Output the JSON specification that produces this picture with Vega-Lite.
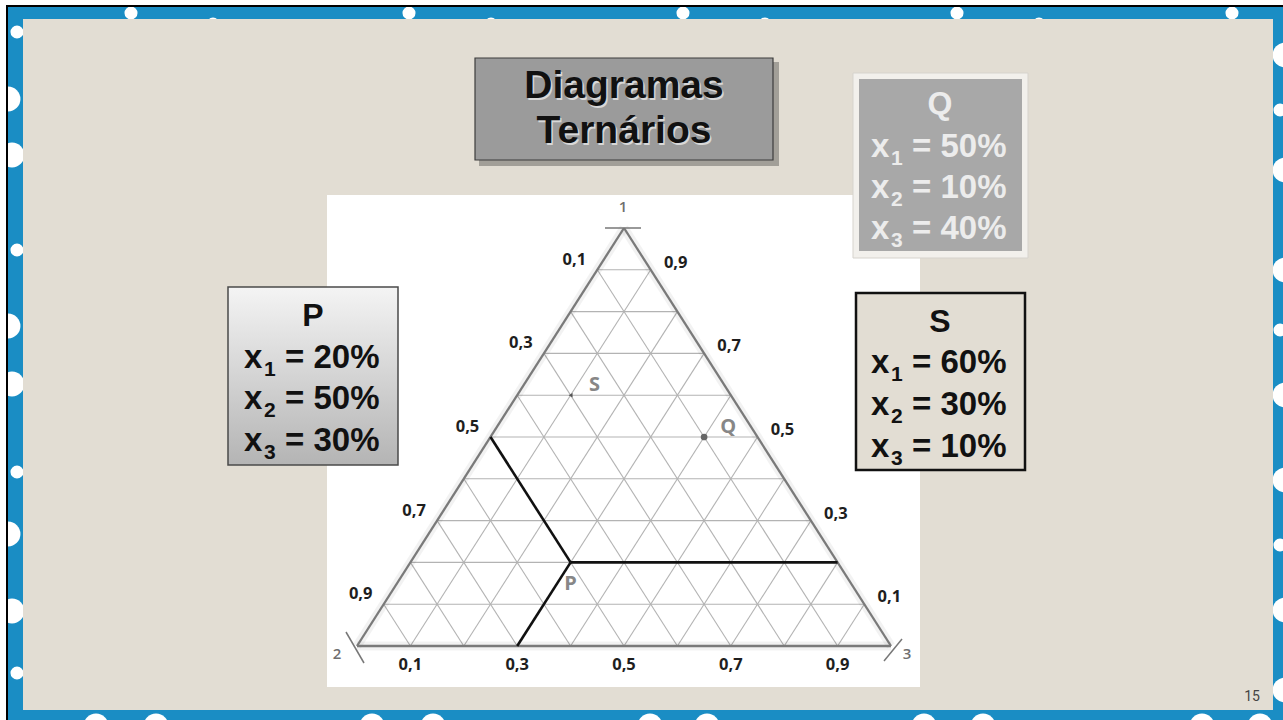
{
  "$schema": "https://vega.github.io/schema/vega-lite/v6.json",
  "width": 1283,
  "height": 720,
  "padding": 0,
  "autosize": {"type": "none"},
  "background": "white",
  "config": {"view": {"stroke": null}},
  "datasets": {
    "sheets": [
      {"part": "border", "x": 8, "y": 7, "x2": 1283, "y2": 720}
    ],
    "frame": [
      {"part": "outside", "x": 0, "y": 0, "x2": 1283, "y2": 5},
      {"part": "outside", "x": 0, "y": 0, "x2": 6, "y2": 720},
      {"part": "frame", "x": 6, "y": 5, "x2": 1283, "y2": 7},
      {"part": "frame", "x": 6, "y": 5, "x2": 8, "y2": 720}
    ],
    "panels": [
      {"part": "slide", "x": 23, "y": 19, "x2": 1273, "y2": 710},
      {"part": "panel", "x": 327, "y": 195, "x2": 920, "y2": 687}
    ],
    "blobsBig": [
      {"x": 8, "y": 99}, {"x": 12, "y": 155}, {"x": 8, "y": 326}, {"x": 12, "y": 384},
      {"x": 8, "y": 534}, {"x": 12, "y": 611}, {"x": 1285, "y": 55}, {"x": 1285, "y": 170},
      {"x": 1285, "y": 270}, {"x": 1285, "y": 395}, {"x": 1285, "y": 480}, {"x": 1285, "y": 610},
      {"x": 1285, "y": 690}, {"x": 96, "y": 726}, {"x": 156, "y": 726}, {"x": 372, "y": 726},
      {"x": 433, "y": 726}, {"x": 650, "y": 726}, {"x": 707, "y": 726}, {"x": 924, "y": 726},
      {"x": 983, "y": 726}, {"x": 1202, "y": 726}, {"x": 1260, "y": 726}
    ],
    "blobsSmall": [
      {"x": 131, "y": 13}, {"x": 409, "y": 13}, {"x": 683, "y": 13}, {"x": 957, "y": 13}, {"x": 1232, "y": 13},
      {"x": 213, "y": 24}, {"x": 491, "y": 24}, {"x": 765, "y": 24}, {"x": 1039, "y": 24},
      {"x": 17, "y": 32}, {"x": 17, "y": 250}, {"x": 17, "y": 472}, {"x": 17, "y": 673},
      {"x": 1280, "y": 110}, {"x": 1280, "y": 330}, {"x": 1280, "y": 545}
    ],
    "grid": [
      {"a1": 0.1, "a3": 0, "b1": 0.1, "b3": 0.9}, {"a1": 0.2, "a3": 0, "b1": 0.2, "b3": 0.8},
      {"a1": 0.3, "a3": 0, "b1": 0.3, "b3": 0.7}, {"a1": 0.4, "a3": 0, "b1": 0.4, "b3": 0.6},
      {"a1": 0.5, "a3": 0, "b1": 0.5, "b3": 0.5}, {"a1": 0.6, "a3": 0, "b1": 0.6, "b3": 0.4},
      {"a1": 0.7, "a3": 0, "b1": 0.7, "b3": 0.3}, {"a1": 0.8, "a3": 0, "b1": 0.8, "b3": 0.2},
      {"a1": 0.9, "a3": 0, "b1": 0.9, "b3": 0.1},
      {"a1": 0.9, "a3": 0, "b1": 0, "b3": 0.9}, {"a1": 0.8, "a3": 0, "b1": 0, "b3": 0.8},
      {"a1": 0.7, "a3": 0, "b1": 0, "b3": 0.7}, {"a1": 0.6, "a3": 0, "b1": 0, "b3": 0.6},
      {"a1": 0.5, "a3": 0, "b1": 0, "b3": 0.5}, {"a1": 0.4, "a3": 0, "b1": 0, "b3": 0.4},
      {"a1": 0.3, "a3": 0, "b1": 0, "b3": 0.3}, {"a1": 0.2, "a3": 0, "b1": 0, "b3": 0.2},
      {"a1": 0.1, "a3": 0, "b1": 0, "b3": 0.1},
      {"a1": 0.9, "a3": 0.1, "b1": 0, "b3": 0.1}, {"a1": 0.8, "a3": 0.2, "b1": 0, "b3": 0.2},
      {"a1": 0.7, "a3": 0.3, "b1": 0, "b3": 0.3}, {"a1": 0.6, "a3": 0.4, "b1": 0, "b3": 0.4},
      {"a1": 0.5, "a3": 0.5, "b1": 0, "b3": 0.5}, {"a1": 0.4, "a3": 0.6, "b1": 0, "b3": 0.6},
      {"a1": 0.3, "a3": 0.7, "b1": 0, "b3": 0.7}, {"a1": 0.2, "a3": 0.8, "b1": 0, "b3": 0.8},
      {"a1": 0.1, "a3": 0.9, "b1": 0, "b3": 0.9}
    ],
    "edges": [
      {"a1": 1, "a3": 0, "b1": 0, "b3": 0},
      {"a1": 1, "a3": 0, "b1": 0, "b3": 1},
      {"a1": 0, "a3": 0, "b1": 0, "b3": 1}
    ],
    "construction": [
      {"a1": 0.2, "a3": 0.3, "b1": 0.5, "b3": 0},
      {"a1": 0.2, "a3": 0.3, "b1": 0, "b3": 0.3},
      {"a1": 0.2, "a3": 0.3, "b1": 0.2, "b3": 0.8}
    ],
    "points": [
      {"name": "P", "x1": 0.2, "x2": 0.5, "x3": 0.3},
      {"name": "Q", "x1": 0.5, "x2": 0.1, "x3": 0.4},
      {"name": "S", "x1": 0.6, "x2": 0.3, "x3": 0.1}
    ],
    "ticks": [
      {"side": "left", "x1": 0.9, "x3": 0, "t": "0,1"},
      {"side": "left", "x1": 0.7, "x3": 0, "t": "0,3"},
      {"side": "left", "x1": 0.5, "x3": 0, "t": "0,5"},
      {"side": "left", "x1": 0.3, "x3": 0, "t": "0,7"},
      {"side": "left", "x1": 0.1, "x3": 0, "t": "0,9"},
      {"side": "right", "x1": 0.9, "x3": 0.1, "t": "0,9"},
      {"side": "right", "x1": 0.7, "x3": 0.3, "t": "0,7"},
      {"side": "right", "x1": 0.5, "x3": 0.5, "t": "0,5"},
      {"side": "right", "x1": 0.3, "x3": 0.7, "t": "0,3"},
      {"side": "right", "x1": 0.1, "x3": 0.9, "t": "0,1"},
      {"side": "bottom", "x1": 0, "x3": 0.1, "t": "0,1"},
      {"side": "bottom", "x1": 0, "x3": 0.3, "t": "0,3"},
      {"side": "bottom", "x1": 0, "x3": 0.5, "t": "0,5"},
      {"side": "bottom", "x1": 0, "x3": 0.7, "t": "0,7"},
      {"side": "bottom", "x1": 0, "x3": 0.9, "t": "0,9"}
    ],
    "headings": [
      {"box": "P", "x": 313, "y": 316, "t": "P"},
      {"box": "S", "x": 940, "y": 322, "t": "S"},
      {"box": "Q", "x": 940, "y": 104, "t": "Q"}
    ],
    "fractions": [
      {"box": "P", "x": 244, "y": 358, "sub": "1", "rest": "= 20%"},
      {"box": "P", "x": 244, "y": 399, "sub": "2", "rest": "= 50%"},
      {"box": "P", "x": 244, "y": 441, "sub": "3", "rest": "= 30%"},
      {"box": "S", "x": 871, "y": 363, "sub": "1", "rest": "= 60%"},
      {"box": "S", "x": 871, "y": 405, "sub": "2", "rest": "= 30%"},
      {"box": "S", "x": 871, "y": 447, "sub": "3", "rest": "= 10%"},
      {"box": "Q", "x": 871, "y": 147, "sub": "1", "rest": "= 50%"},
      {"box": "Q", "x": 871, "y": 188, "sub": "2", "rest": "= 10%"},
      {"box": "Q", "x": 871, "y": 229, "sub": "3", "rest": "= 40%"}
    ]
  },
  "resolve": {"scale": {"x": "independent", "y": "independent", "color": "independent"}},
  "layer": [
    {
      "layer": [
        {
          "data": {"name": "sheets"},
          "mark": {"type": "rect"},
          "encoding": {
            "x": {"field": "x", "type": "quantitative", "scale": {"domain": [0, 1283], "range": [0, 1283], "nice": false, "zero": false}, "axis": null},
            "x2": {"field": "x2"},
            "y": {"field": "y", "type": "quantitative", "scale": {"domain": [0, 720], "range": [0, 720], "nice": false, "zero": false}, "axis": null},
            "y2": {"field": "y2"},
            "color": {"field": "part", "type": "nominal", "scale": {"domain": ["outside", "frame", "border", "slide", "panel"], "range": ["#ffffff", "#000000", "#1a8dc4", "#e2ddd3", "#ffffff"]}, "legend": null}
          }
        },
        {
          "data": {"name": "blobsBig"},
          "mark": {"type": "point", "shape": "circle", "filled": true, "color": "white", "opacity": 1, "size": 620},
          "encoding": {
            "x": {"field": "x", "type": "quantitative", "scale": {"domain": [0, 1283], "range": [0, 1283], "nice": false, "zero": false}, "axis": null},
            "y": {"field": "y", "type": "quantitative", "scale": {"domain": [0, 720], "range": [0, 720], "nice": false, "zero": false}, "axis": null}
          }
        },
        {
          "data": {"name": "blobsSmall"},
          "mark": {"type": "point", "shape": "circle", "filled": true, "color": "white", "opacity": 1, "size": 170},
          "encoding": {
            "x": {"field": "x", "type": "quantitative", "scale": {"domain": [0, 1283], "range": [0, 1283], "nice": false, "zero": false}, "axis": null},
            "y": {"field": "y", "type": "quantitative", "scale": {"domain": [0, 720], "range": [0, 720], "nice": false, "zero": false}, "axis": null}
          }
        },
        {
          "data": {"name": "frame"},
          "mark": {"type": "rect"},
          "encoding": {
            "x": {"field": "x", "type": "quantitative", "scale": {"domain": [0, 1283], "range": [0, 1283], "nice": false, "zero": false}, "axis": null},
            "x2": {"field": "x2"},
            "y": {"field": "y", "type": "quantitative", "scale": {"domain": [0, 720], "range": [0, 720], "nice": false, "zero": false}, "axis": null},
            "y2": {"field": "y2"},
            "color": {"field": "part", "type": "nominal", "scale": {"domain": ["outside", "frame", "border", "slide", "panel"], "range": ["#ffffff", "#000000", "#1a8dc4", "#e2ddd3", "#ffffff"]}, "legend": null}
          }
        },
        {
          "data": {"name": "panels"},
          "mark": {"type": "rect"},
          "encoding": {
            "x": {"field": "x", "type": "quantitative", "scale": {"domain": [0, 1283], "range": [0, 1283], "nice": false, "zero": false}, "axis": null},
            "x2": {"field": "x2"},
            "y": {"field": "y", "type": "quantitative", "scale": {"domain": [0, 720], "range": [0, 720], "nice": false, "zero": false}, "axis": null},
            "y2": {"field": "y2"},
            "color": {"field": "part", "type": "nominal", "scale": {"domain": ["outside", "frame", "border", "slide", "panel"], "range": ["#ffffff", "#000000", "#1a8dc4", "#e2ddd3", "#ffffff"]}, "legend": null}
          }
        }
      ]
    },
    {
      "layer": [
        {
          "data": {"name": "grid"},
          "transform": [
            {"calculate": "datum.a3 + datum.a1 / 2", "as": "ua"},
            {"calculate": "datum.b3 + datum.b1 / 2", "as": "ub"}
          ],
          "mark": {"type": "rule", "color": "#b3b3b3", "strokeWidth": 1.1},
          "encoding": {
            "x": {"field": "ua", "type": "quantitative", "scale": {"domain": [0, 1], "range": [357, 891], "nice": false, "zero": false}, "axis": null},
            "x2": {"field": "ub"},
            "y": {"field": "a1", "type": "quantitative", "scale": {"domain": [0, 1], "range": [646, 228], "nice": false, "zero": false}, "axis": null},
            "y2": {"field": "b1"}
          }
        },
        {
          "data": {"name": "edges"},
          "transform": [
            {"calculate": "datum.a3 + datum.a1 / 2", "as": "ua"},
            {"calculate": "datum.b3 + datum.b1 / 2", "as": "ub"}
          ],
          "mark": {"type": "rule", "color": "#000000", "strokeWidth": 9, "opacity": 0.05},
          "encoding": {
            "x": {"field": "ua", "type": "quantitative", "scale": {"domain": [0, 1], "range": [357, 891], "nice": false, "zero": false}, "axis": null},
            "x2": {"field": "ub"},
            "y": {"field": "a1", "type": "quantitative", "scale": {"domain": [0, 1], "range": [646, 228], "nice": false, "zero": false}, "axis": null},
            "y2": {"field": "b1"}
          }
        },
        {
          "data": {"name": "edges"},
          "transform": [
            {"calculate": "datum.a3 + datum.a1 / 2", "as": "ua"},
            {"calculate": "datum.b3 + datum.b1 / 2", "as": "ub"}
          ],
          "mark": {"type": "rule", "color": "#7a7a7a", "strokeWidth": 2.3},
          "encoding": {
            "x": {"field": "ua", "type": "quantitative", "scale": {"domain": [0, 1], "range": [357, 891], "nice": false, "zero": false}, "axis": null},
            "x2": {"field": "ub"},
            "y": {"field": "a1", "type": "quantitative", "scale": {"domain": [0, 1], "range": [646, 228], "nice": false, "zero": false}, "axis": null},
            "y2": {"field": "b1"}
          }
        },
        {
          "data": {"name": "construction"},
          "transform": [
            {"calculate": "datum.a3 + datum.a1 / 2", "as": "ua"},
            {"calculate": "datum.b3 + datum.b1 / 2", "as": "ub"}
          ],
          "mark": {"type": "rule", "color": "#111111", "strokeWidth": 2.6},
          "encoding": {
            "x": {"field": "ua", "type": "quantitative", "scale": {"domain": [0, 1], "range": [357, 891], "nice": false, "zero": false}, "axis": null},
            "x2": {"field": "ub"},
            "y": {"field": "a1", "type": "quantitative", "scale": {"domain": [0, 1], "range": [646, 228], "nice": false, "zero": false}, "axis": null},
            "y2": {"field": "b1"}
          }
        },
        {
          "data": {"name": "points"},
          "transform": [
            {"filter": "datum.name == 'Q'"},
            {"calculate": "datum.x3 + datum.x1 / 2", "as": "u"}
          ],
          "mark": {"type": "point", "shape": "circle", "filled": true, "color": "#666666", "opacity": 1, "size": 45},
          "encoding": {
            "x": {"field": "u", "type": "quantitative", "scale": {"domain": [0, 1], "range": [357, 891], "nice": false, "zero": false}, "axis": null},
            "y": {"field": "x1", "type": "quantitative", "scale": {"domain": [0, 1], "range": [646, 228], "nice": false, "zero": false}, "axis": null}
          }
        },
        {
          "data": {"name": "points"},
          "transform": [
            {"filter": "datum.name == 'S'"},
            {"calculate": "datum.x3 + datum.x1 / 2", "as": "u"}
          ],
          "mark": {"type": "point", "shape": "triangle-left", "filled": true, "color": "#555555", "opacity": 1, "size": 20},
          "encoding": {
            "x": {"field": "u", "type": "quantitative", "scale": {"domain": [0, 1], "range": [357, 891], "nice": false, "zero": false}, "axis": null},
            "y": {"field": "x1", "type": "quantitative", "scale": {"domain": [0, 1], "range": [646, 228], "nice": false, "zero": false}, "axis": null}
          }
        },
        {
          "data": {"name": "points"},
          "transform": [
            {"filter": "datum.name != 'P'"},
            {"calculate": "datum.x3 + datum.x1 / 2", "as": "u"}
          ],
          "mark": {"type": "text", "font": "Open Sans", "fontWeight": "bold", "fontSize": 20, "color": "#878787", "dx": 24, "dy": -10, "align": "center", "baseline": "middle"},
          "encoding": {
            "x": {"field": "u", "type": "quantitative", "scale": {"domain": [0, 1], "range": [357, 891], "nice": false, "zero": false}, "axis": null},
            "y": {"field": "x1", "type": "quantitative", "scale": {"domain": [0, 1], "range": [646, 228], "nice": false, "zero": false}, "axis": null},
            "text": {"field": "name"}
          }
        },
        {
          "data": {"name": "points"},
          "transform": [
            {"filter": "datum.name == 'P'"},
            {"calculate": "datum.x3 + datum.x1 / 2", "as": "u"}
          ],
          "mark": {"type": "text", "font": "Open Sans", "fontWeight": "bold", "fontSize": 20, "color": "#878787", "dx": 0, "dy": 22, "align": "center", "baseline": "middle"},
          "encoding": {
            "x": {"field": "u", "type": "quantitative", "scale": {"domain": [0, 1], "range": [357, 891], "nice": false, "zero": false}, "axis": null},
            "y": {"field": "x1", "type": "quantitative", "scale": {"domain": [0, 1], "range": [646, 228], "nice": false, "zero": false}, "axis": null},
            "text": {"field": "name"}
          }
        },
        {
          "data": {"name": "ticks"},
          "transform": [
            {"filter": "datum.side == 'left'"},
            {"calculate": "datum.x3 + datum.x1 / 2", "as": "u"}
          ],
          "mark": {"type": "text", "font": "Open Sans", "fontWeight": "bold", "fontSize": 16.5, "color": "#1e1e1e", "dx": -23, "dy": -10, "align": "center", "baseline": "middle"},
          "encoding": {
            "x": {"field": "u", "type": "quantitative", "scale": {"domain": [0, 1], "range": [357, 891], "nice": false, "zero": false}, "axis": null},
            "y": {"field": "x1", "type": "quantitative", "scale": {"domain": [0, 1], "range": [646, 228], "nice": false, "zero": false}, "axis": null},
            "text": {"field": "t"}
          }
        },
        {
          "data": {"name": "ticks"},
          "transform": [
            {"filter": "datum.side == 'right'"},
            {"calculate": "datum.x3 + datum.x1 / 2", "as": "u"}
          ],
          "mark": {"type": "text", "font": "Open Sans", "fontWeight": "bold", "fontSize": 16.5, "color": "#1e1e1e", "dx": 25, "dy": -7, "align": "center", "baseline": "middle"},
          "encoding": {
            "x": {"field": "u", "type": "quantitative", "scale": {"domain": [0, 1], "range": [357, 891], "nice": false, "zero": false}, "axis": null},
            "y": {"field": "x1", "type": "quantitative", "scale": {"domain": [0, 1], "range": [646, 228], "nice": false, "zero": false}, "axis": null},
            "text": {"field": "t"}
          }
        },
        {
          "data": {"name": "ticks"},
          "transform": [
            {"filter": "datum.side == 'bottom'"},
            {"calculate": "datum.x3 + datum.x1 / 2", "as": "u"}
          ],
          "mark": {"type": "text", "font": "Open Sans", "fontWeight": "bold", "fontSize": 16.5, "color": "#1e1e1e", "dx": 0, "dy": 19, "align": "center", "baseline": "middle"},
          "encoding": {
            "x": {"field": "u", "type": "quantitative", "scale": {"domain": [0, 1], "range": [357, 891], "nice": false, "zero": false}, "axis": null},
            "y": {"field": "x1", "type": "quantitative", "scale": {"domain": [0, 1], "range": [646, 228], "nice": false, "zero": false}, "axis": null},
            "text": {"field": "t"}
          }
        }
      ]
    },
    {
      "layer": [
        {
          "data": {"values": [
            {"x": 605, "y": 228, "x2": 641, "y2": 228},
            {"x": 346, "y": 632, "x2": 364, "y2": 663},
            {"x": 884, "y": 661, "x2": 902, "y2": 639}
          ]},
          "mark": {"type": "rule", "color": "#777777", "strokeWidth": 1.5},
          "encoding": {
            "x": {"field": "x", "type": "quantitative", "scale": {"domain": [0, 1283], "range": [0, 1283], "nice": false, "zero": false}, "axis": null},
            "x2": {"field": "x2"},
            "y": {"field": "y", "type": "quantitative", "scale": {"domain": [0, 720], "range": [0, 720], "nice": false, "zero": false}, "axis": null},
            "y2": {"field": "y2"}
          }
        },
        {
          "data": {"values": [
            {"x": 623, "y": 207, "t": "1"},
            {"x": 337, "y": 654, "t": "2"},
            {"x": 907, "y": 654, "t": "3"}
          ]},
          "mark": {"type": "text", "font": "Open Sans", "fontWeight": 600, "fontSize": 15, "color": "#6f6f6f", "align": "center", "baseline": "middle"},
          "encoding": {
            "x": {"field": "x", "type": "quantitative", "scale": {"domain": [0, 1283], "range": [0, 1283], "nice": false, "zero": false}, "axis": null},
            "y": {"field": "y", "type": "quantitative", "scale": {"domain": [0, 720], "range": [0, 720], "nice": false, "zero": false}, "axis": null},
            "text": {"field": "t"}
          }
        },
        {
          "data": {"values": [{"x": 479, "y": 62, "x2": 779, "y2": 166}]},
          "mark": {"type": "rect", "color": "#6e6c68", "opacity": 0.55},
          "encoding": {
            "x": {"field": "x", "type": "quantitative", "scale": {"domain": [0, 1283], "range": [0, 1283], "nice": false, "zero": false}, "axis": null},
            "x2": {"field": "x2"},
            "y": {"field": "y", "type": "quantitative", "scale": {"domain": [0, 720], "range": [0, 720], "nice": false, "zero": false}, "axis": null},
            "y2": {"field": "y2"}
          }
        },
        {
          "data": {"values": [{"x": 475, "y": 58, "x2": 773, "y2": 160}]},
          "mark": {"type": "rect", "fill": "#9b9b9b", "stroke": "#3c3c3c", "strokeWidth": 1.2},
          "encoding": {
            "x": {"field": "x", "type": "quantitative", "scale": {"domain": [0, 1283], "range": [0, 1283], "nice": false, "zero": false}, "axis": null},
            "x2": {"field": "x2"},
            "y": {"field": "y", "type": "quantitative", "scale": {"domain": [0, 720], "range": [0, 720], "nice": false, "zero": false}, "axis": null},
            "y2": {"field": "y2"}
          }
        },
        {
          "data": {"values": [{"x": 228, "y": 287, "x2": 398, "y2": 465}]},
          "mark": {"type": "rect", "fill": {"gradient": "linear", "x1": 0, "y1": 0, "x2": 0, "y2": 1, "stops": [{"offset": 0, "color": "#f4f4f4"}, {"offset": 1, "color": "#b4b4b4"}]}, "stroke": "#4a4a4a", "strokeWidth": 1.5},
          "encoding": {
            "x": {"field": "x", "type": "quantitative", "scale": {"domain": [0, 1283], "range": [0, 1283], "nice": false, "zero": false}, "axis": null},
            "x2": {"field": "x2"},
            "y": {"field": "y", "type": "quantitative", "scale": {"domain": [0, 720], "range": [0, 720], "nice": false, "zero": false}, "axis": null},
            "y2": {"field": "y2"}
          }
        },
        {
          "data": {"values": [{"x": 853, "y": 73, "x2": 1028, "y2": 258}]},
          "mark": {"type": "rect", "fill": "#f2f0ec", "stroke": "#d6d3cd", "strokeWidth": 1},
          "encoding": {
            "x": {"field": "x", "type": "quantitative", "scale": {"domain": [0, 1283], "range": [0, 1283], "nice": false, "zero": false}, "axis": null},
            "x2": {"field": "x2"},
            "y": {"field": "y", "type": "quantitative", "scale": {"domain": [0, 720], "range": [0, 720], "nice": false, "zero": false}, "axis": null},
            "y2": {"field": "y2"}
          }
        },
        {
          "data": {"values": [{"x": 859, "y": 79, "x2": 1022, "y2": 251}]},
          "mark": {"type": "rect", "fill": "#a8a8a8"},
          "encoding": {
            "x": {"field": "x", "type": "quantitative", "scale": {"domain": [0, 1283], "range": [0, 1283], "nice": false, "zero": false}, "axis": null},
            "x2": {"field": "x2"},
            "y": {"field": "y", "type": "quantitative", "scale": {"domain": [0, 720], "range": [0, 720], "nice": false, "zero": false}, "axis": null},
            "y2": {"field": "y2"}
          }
        },
        {
          "data": {"values": [{"x": 856, "y": 293, "x2": 1025, "y2": 470}]},
          "mark": {"type": "rect", "fill": "#e2ddd3", "stroke": "#111111", "strokeWidth": 2.5},
          "encoding": {
            "x": {"field": "x", "type": "quantitative", "scale": {"domain": [0, 1283], "range": [0, 1283], "nice": false, "zero": false}, "axis": null},
            "x2": {"field": "x2"},
            "y": {"field": "y", "type": "quantitative", "scale": {"domain": [0, 720], "range": [0, 720], "nice": false, "zero": false}, "axis": null},
            "y2": {"field": "y2"}
          }
        },
        {
          "data": {"values": [
            {"x": 624, "y": 86, "t": "Diagramas"},
            {"x": 624, "y": 131, "t": "Ternários"}
          ]},
          "mark": {"type": "text", "font": "Liberation Sans", "fontWeight": "bold", "fontSize": 39, "color": "#f2f2f2", "opacity": 0.7, "dx": 1.5, "dy": 1.5, "align": "center", "baseline": "middle"},
          "encoding": {
            "x": {"field": "x", "type": "quantitative", "scale": {"domain": [0, 1283], "range": [0, 1283], "nice": false, "zero": false}, "axis": null},
            "y": {"field": "y", "type": "quantitative", "scale": {"domain": [0, 720], "range": [0, 720], "nice": false, "zero": false}, "axis": null},
            "text": {"field": "t"}
          }
        },
        {
          "data": {"values": [
            {"x": 624, "y": 86, "t": "Diagramas"},
            {"x": 624, "y": 131, "t": "Ternários"}
          ]},
          "mark": {"type": "text", "font": "Liberation Sans", "fontWeight": "bold", "fontSize": 39, "color": "#111111", "align": "center", "baseline": "middle"},
          "encoding": {
            "x": {"field": "x", "type": "quantitative", "scale": {"domain": [0, 1283], "range": [0, 1283], "nice": false, "zero": false}, "axis": null},
            "y": {"field": "y", "type": "quantitative", "scale": {"domain": [0, 720], "range": [0, 720], "nice": false, "zero": false}, "axis": null},
            "text": {"field": "t"}
          }
        },
        {
          "data": {"name": "headings"},
          "mark": {"type": "text", "font": "Liberation Sans", "fontWeight": "bold", "fontSize": 32, "align": "center", "baseline": "middle"},
          "encoding": {
            "x": {"field": "x", "type": "quantitative", "scale": {"domain": [0, 1283], "range": [0, 1283], "nice": false, "zero": false}, "axis": null},
            "y": {"field": "y", "type": "quantitative", "scale": {"domain": [0, 720], "range": [0, 720], "nice": false, "zero": false}, "axis": null},
            "text": {"field": "t"},
            "color": {"field": "box", "type": "nominal", "scale": {"domain": ["P", "Q", "S"], "range": ["#111111", "#ececec", "#111111"]}, "legend": null}
          }
        },
        {
          "data": {"name": "fractions"},
          "mark": {"type": "text", "font": "Liberation Sans", "fontWeight": "bold", "fontSize": 33, "align": "left", "baseline": "middle"},
          "encoding": {
            "x": {"field": "x", "type": "quantitative", "scale": {"domain": [0, 1283], "range": [0, 1283], "nice": false, "zero": false}, "axis": null},
            "y": {"field": "y", "type": "quantitative", "scale": {"domain": [0, 720], "range": [0, 720], "nice": false, "zero": false}, "axis": null},
            "text": {"value": "x"},
            "color": {"field": "box", "type": "nominal", "scale": {"domain": ["P", "Q", "S"], "range": ["#111111", "#ececec", "#111111"]}, "legend": null}
          }
        },
        {
          "data": {"name": "fractions"},
          "mark": {"type": "text", "font": "Liberation Sans", "fontWeight": "bold", "fontSize": 21, "align": "left", "baseline": "middle", "dx": 20, "dy": 12},
          "encoding": {
            "x": {"field": "x", "type": "quantitative", "scale": {"domain": [0, 1283], "range": [0, 1283], "nice": false, "zero": false}, "axis": null},
            "y": {"field": "y", "type": "quantitative", "scale": {"domain": [0, 720], "range": [0, 720], "nice": false, "zero": false}, "axis": null},
            "text": {"field": "sub"},
            "color": {"field": "box", "type": "nominal", "scale": {"domain": ["P", "Q", "S"], "range": ["#111111", "#ececec", "#111111"]}, "legend": null}
          }
        },
        {
          "data": {"name": "fractions"},
          "mark": {"type": "text", "font": "Liberation Sans", "fontWeight": "bold", "fontSize": 33, "align": "left", "baseline": "middle", "dx": 41},
          "encoding": {
            "x": {"field": "x", "type": "quantitative", "scale": {"domain": [0, 1283], "range": [0, 1283], "nice": false, "zero": false}, "axis": null},
            "y": {"field": "y", "type": "quantitative", "scale": {"domain": [0, 720], "range": [0, 720], "nice": false, "zero": false}, "axis": null},
            "text": {"field": "rest"},
            "color": {"field": "box", "type": "nominal", "scale": {"domain": ["P", "Q", "S"], "range": ["#111111", "#ececec", "#111111"]}, "legend": null}
          }
        },
        {
          "data": {"values": [{"x": 1252, "y": 697, "t": "15"}]},
          "mark": {"type": "text", "font": "Roboto", "fontSize": 14, "color": "#444444", "align": "center", "baseline": "middle"},
          "encoding": {
            "x": {"field": "x", "type": "quantitative", "scale": {"domain": [0, 1283], "range": [0, 1283], "nice": false, "zero": false}, "axis": null},
            "y": {"field": "y", "type": "quantitative", "scale": {"domain": [0, 720], "range": [0, 720], "nice": false, "zero": false}, "axis": null},
            "text": {"field": "t"}
          }
        }
      ]
    }
  ]
}
